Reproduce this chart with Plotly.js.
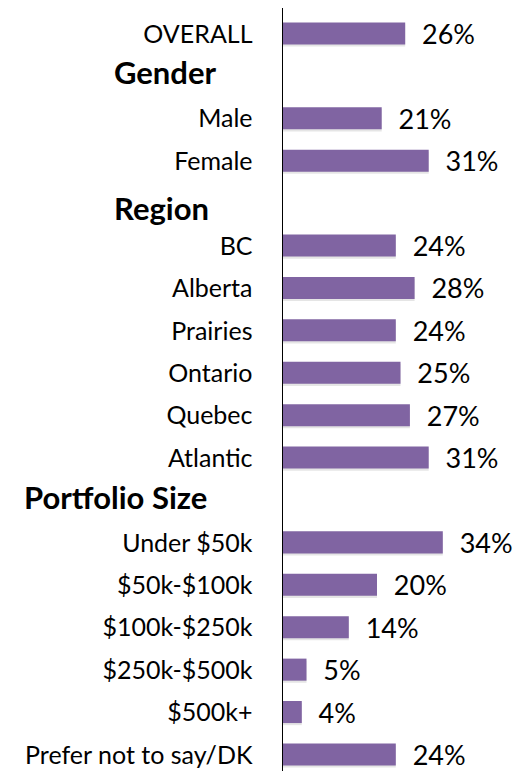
<!DOCTYPE html>
<html>
<head>
<meta charset="utf-8">
<script src="https://cdn.plot.ly/plotly-3.0.1.min.js"></script>
<style>html,body{margin:0;padding:0;background:#fff;}#chart{width:518px;height:771px;}</style>
</head>
<body>
<div id="chart"></div>
<script>
// Row keys (headers have no value)
const rows = ["OVERALL","Gender","Male","Female","Region","BC","Alberta","Prairies","Ontario","Quebec","Atlantic","Portfolio Size","Under $50k","$50k-$100k","$100k-$250k","$250k-$500k","$500k+","Prefer not to say/DK"];
const headers = ["Gender","Region","Portfolio Size"];
const values = [26,null,21,31,null,24,28,24,25,27,31,null,34,20,14,5,4,24];
const tickRows = rows.filter(r => headers.indexOf(r) < 0);

const barColor = "#8064A2";
const font = "Lato, 'Open Sans', sans-serif";

const shadow = {
  type: "bar", orientation: "h", y: rows, x: values,
  marker: {color: "rgba(0,0,0,0.10)"}, offset: -0.22, width: 0.52,
  hoverinfo: "skip", showlegend: false
};
const bars = {
  type: "bar", orientation: "h", y: rows, x: values,
  marker: {color: barColor},
  offset: -0.27, width: 0.52,
  text: values.map(v => v == null ? "" : "  " + v + "%"),
  textposition: "outside", cliponaxis: false, constraintext: "none",
  textfont: {family: font, size: 27, color: "#000"},
  hoverinfo: "skip", showlegend: false
};

const headerX = {"Gender": 112, "Region": 112, "Portfolio Size": 22};
const headerShift = {"Gender": 4, "Region": -4, "Portfolio Size": 3};
const annotations = headers.map(h => ({
  xref: "paper", yref: "y", x: (headerX[h] - 283) / 235, y: h,
  xanchor: "left", yanchor: "middle", showarrow: false, yshift: headerShift[h],
  text: "<b>" + h + "</b>", font: {family: font, size: 31, color: "#000"}
}));

const layout = {
  width: 518, height: 771,
  margin: {l: 283, r: 0, t: 8, b: 0},
  paper_bgcolor: "#fff", plot_bgcolor: "#fff",
  barmode: "overlay",
  xaxis: {range: [0, 50], showgrid: false, zeroline: false, showticklabels: false, showline: false, ticks: ""},
  yaxis: {
    type: "category", categoryorder: "array", categoryarray: rows,
    range: [17.38, -0.61], showgrid: false, zeroline: false,
    showline: true, linecolor: "#000", linewidth: 1.5,
    tickvals: tickRows, ticktext: tickRows, ticks: "",
    ticklabelstandoff: 24,
    tickfont: {family: font, size: 25, color: "#000"}
  },
  annotations: annotations,
  font: {family: font}
};

Plotly.newPlot("chart", [shadow, bars], layout, {displayModeBar: false, staticPlot: true});
</script>
</body>
</html>
